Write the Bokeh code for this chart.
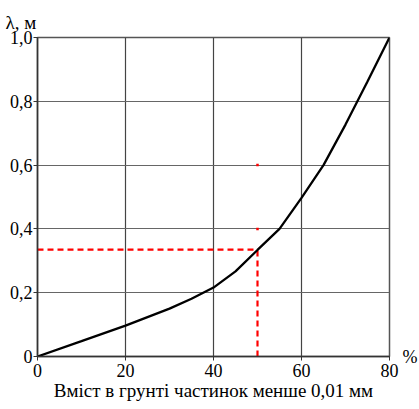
from bokeh.plotting import figure
from bokeh.models import FixedTicker, Range1d, Title, LinearAxis
from bokeh.embed import file_html
from bokeh.resources import INLINE

# data
content_pct = [0, 10, 20, 30, 35, 40, 45, 50, 55, 60, 65, 70, 75, 80]
lam_m = [0.0, 0.048, 0.097, 0.15, 0.181, 0.216, 0.267, 0.334, 0.40, 0.497, 0.60, 0.727, 0.862, 1.0]
x_ticks = [0, 20, 40, 60, 80]
y_ticks = [0, 0.2, 0.4, 0.6, 0.8, 1.0]
y_tick_labels = ["0", "0,2", "0,4", "0,6", "0,8", "1,0"]
marker_x = 50
marker_y = 0.335
dot_y = [0.4, 0.6]

FONT = "Liberation Serif"

p = figure(width=419, height=409, output_backend="svg", toolbar_location=None,
           x_range=Range1d(0, 80), y_range=Range1d(0, 1.0),
           min_border_left=37, min_border_right=30, min_border_top=37, min_border_bottom=53,
           frame_width=352, frame_height=319)
p.background_fill_color = "white"
p.border_fill_color = "white"
p.outline_line_color = "#555555"
p.outline_line_width = 1.5

for ax in (p.xaxis[0], p.yaxis[0]):
    ax.axis_line_color = "#333333"
    ax.axis_line_width = 1.5
    ax.major_tick_in = 0
    ax.major_tick_out = 4
    ax.major_tick_line_color = "#333333"
    ax.minor_tick_line_color = None
    ax.major_label_text_font = FONT
    ax.major_label_text_font_size = "18px"
    ax.major_label_text_color = "black"

p.xaxis[0].ticker = FixedTicker(ticks=x_ticks)
p.yaxis[0].ticker = FixedTicker(ticks=y_ticks)
p.yaxis[0].major_label_overrides = {t: l for t, l in zip(y_ticks, y_tick_labels)}
p.xaxis[0].major_label_standoff = 3
p.yaxis[0].major_label_standoff = 1

p.xaxis[0].axis_label = "Вміст в грунті частинок менше 0,01 мм"
p.xaxis[0].axis_label_text_font = FONT
p.xaxis[0].axis_label_text_font_size = "19px"
p.xaxis[0].axis_label_text_font_style = "normal"
p.xaxis[0].axis_label_text_color = "black"
p.xaxis[0].axis_label_standoff = 0

# "%" unit marker at the right end of the x axis (as a right-side tick label)
pct_axis = LinearAxis(ticker=FixedTicker(ticks=[0]), major_label_overrides={0: "%"},
                      axis_line_color=None, major_tick_line_color=None, minor_tick_line_color=None,
                      major_tick_in=0, major_tick_out=0, major_label_standoff=13,
                      major_label_text_font=FONT, major_label_text_font_size="18px",
                      major_label_text_color="black")
p.add_layout(pct_axis, "right")

# "λ, м" unit label above the y axis
p.add_layout(Title(text="λ, м", align="left", offset=-32, standoff=10,
                   text_font=FONT, text_font_size="19px", text_font_style="normal",
                   text_color="black"), "above")

p.xgrid.grid_line_color = "#444444"
p.ygrid.grid_line_color = "#666666"
p.xgrid.grid_line_width = 1.2
p.ygrid.grid_line_width = 1.2

p.line([0, marker_x], [marker_y, marker_y], line_color="#ff0000", line_width=2.2, line_dash="6 4")
p.line([marker_x, marker_x], [0, marker_y], line_color="#ff0000", line_width=2.2, line_dash="6 4")
p.scatter([marker_x] * len(dot_y), dot_y, marker="square", size=2.5, fill_color="#ff0000", line_color=None)

p.line(content_pct, lam_m, line_color="black", line_width=2.3)

open("out.html", "w").write(file_html(p, INLINE))
